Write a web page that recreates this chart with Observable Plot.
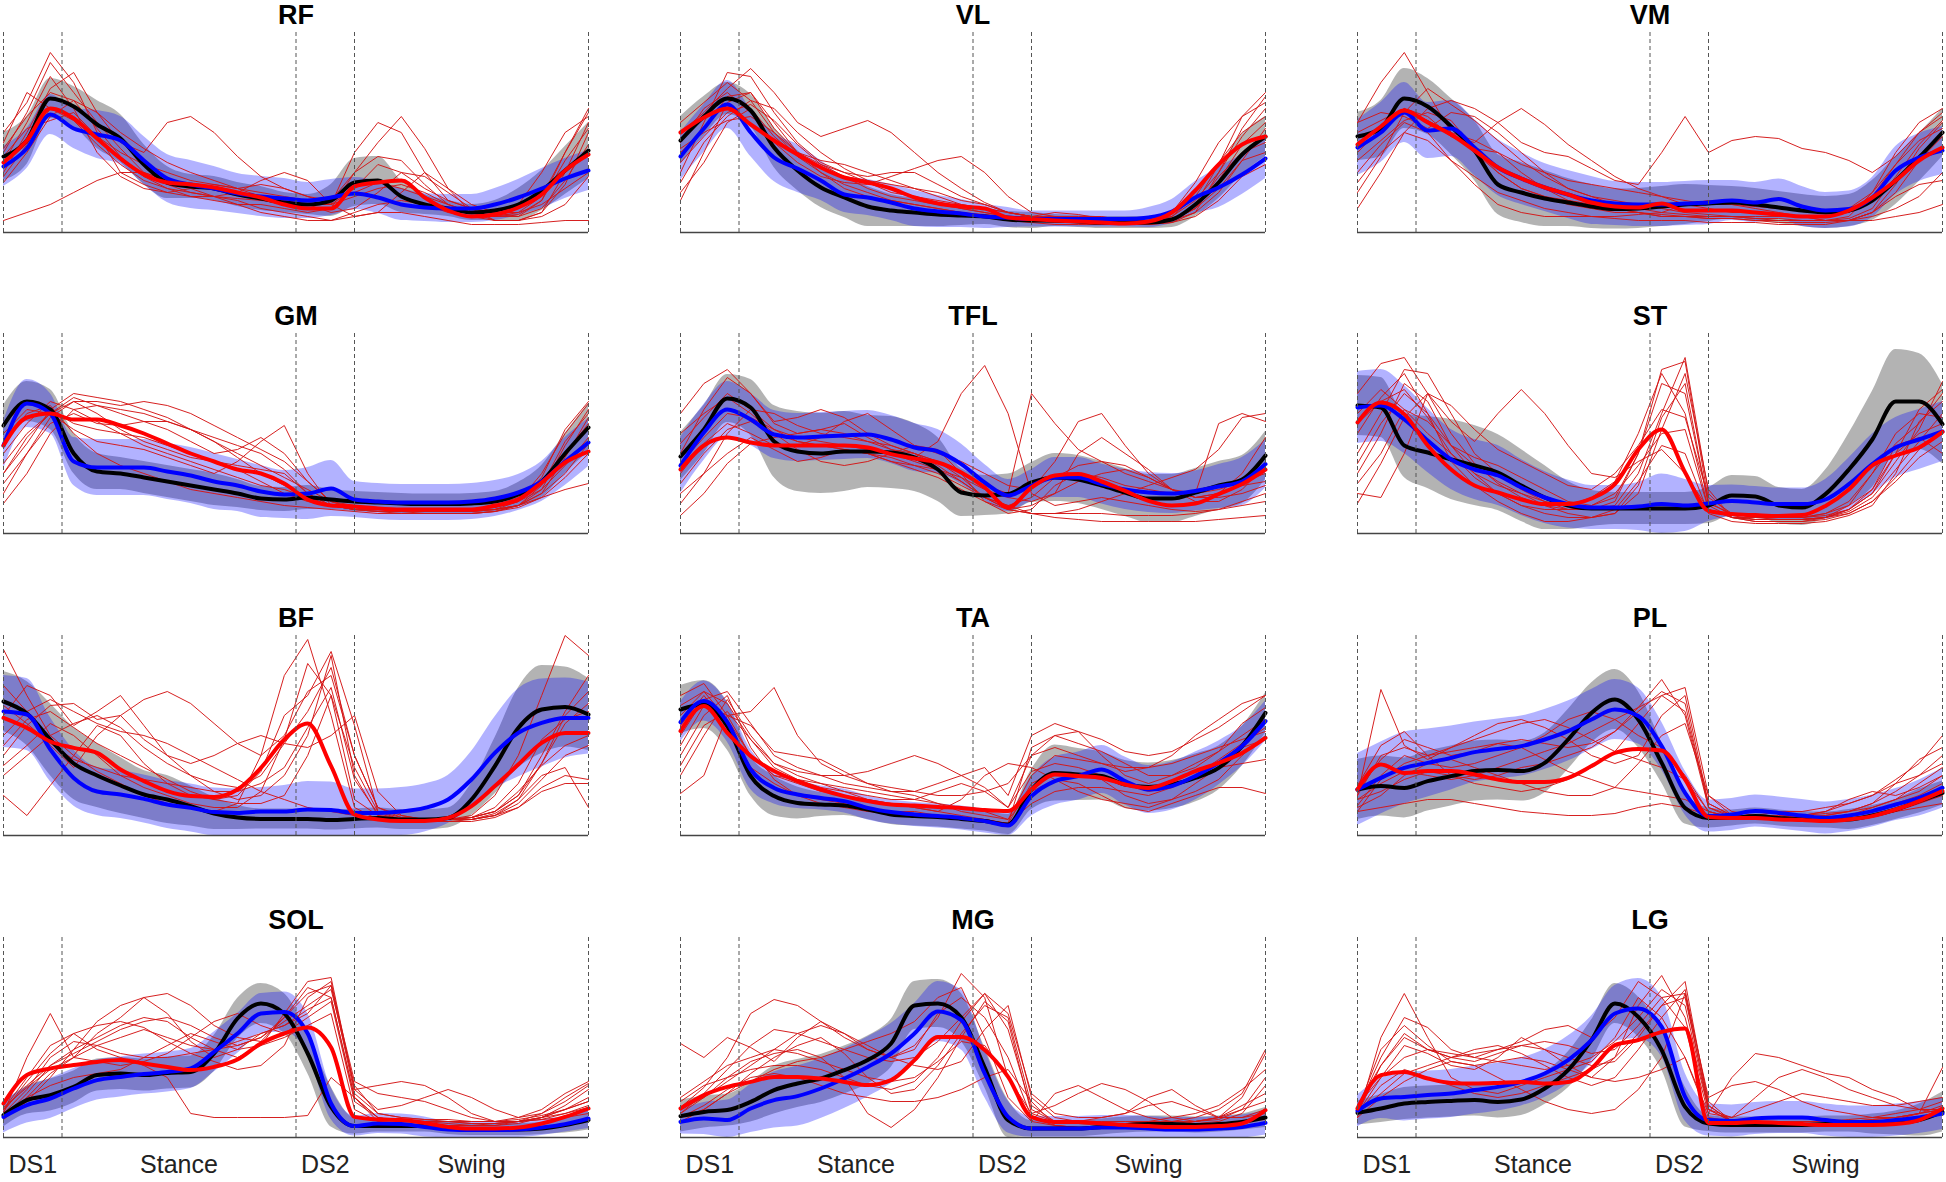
<!DOCTYPE html>
<html><head><meta charset="utf-8">
<script src="https://cdn.jsdelivr.net/npm/d3@7"></script>
<script src="https://cdn.jsdelivr.net/npm/@observablehq/plot@0.6"></script>
<style>
body{margin:0;background:#fff;}
#chart{position:relative;width:1946px;height:1182px;overflow:hidden;background:#fff;font-family:"Liberation Sans",Arial,sans-serif;}
#chart svg{position:absolute;overflow:visible;}
</style></head><body><div id="chart"></div>
<script>
// gait cycle (%) sample points
const pct = [0,4,8,12,16,20,24,28,32,36,40,44,48,52,56,60,64,68,72,76,80,84,88,92,96,100];
const muscles = ["RF","VL","VM","GM","TFL","ST","BF","TA","PL","SOL","MG","LG"];
const phaseBounds = [0,10,50,60,100];
const phaseNames = ["DS1","Stance","DS2","Swing"];
const phaseCenters = [5,30,55,80];

// ---- RF ----
const RF_black = [38,46,67,63,54,47,34,25,23,22,19,17,15,14,16,25,26,18,14,12,10,11,14,21,31,41];
const RF_blackSD = [12,12,10,10,12,12,10,8,6,6,6,6,5,5,8,12,12,8,5,4,4,5,8,10,12,14];
const RF_blue = [33,42,59,52,49,46,36,27,24,22,19.5,18,17,16,17.5,19.5,17.5,14,12.5,12,12,14,17.5,22,27,31];
const RF_blueSD = [10,10,10,10,12,12,12,12,12,11,10,10,10,9,9,8,8,8,7,7,7,8,9,10,10,10];
const RF_red = [35,46,62,57,47,37,29,25,24,22.5,20,17.5,14,12,12,23,25,26,17.5,11,8,9,12.5,19,31,39];
const RF_subjects = [
 [40,60,85,70,55,42,30,26,24,22,20,18,16,14,14,40,55,50,30,16,12,10,14,30,50,58],
 [30,50,72,80,60,45,40,55,58,50,38,28,22,18,16,20,25,22,18,14,10,8,10,14,22,30],
 [6,10,14,20,26,30,30,26,22,18,14,10,8,6,6,8,10,10,8,6,4,4,4,5,6,6],
 [45,70,62,58,48,36,28,22,18,16,14,14,12,10,12,30,45,58,42,22,14,10,8,16,40,60],
 [35,55,78,62,40,28,22,20,22,24,22,18,16,14,10,12,20,30,28,20,12,6,6,10,24,50],
 [25,40,58,66,52,38,28,24,20,18,16,12,10,8,6,10,14,16,14,10,8,6,6,8,14,28],
 [50,65,90,75,50,30,24,20,18,18,20,26,30,26,14,8,10,20,30,22,10,6,6,10,30,55],
 [42,58,70,66,60,50,42,35,30,26,22,20,18,16,16,30,38,36,24,14,10,8,9,16,36,52],
 [28,44,62,56,44,34,26,22,20,18,17,16,15,14,14,18,22,24,20,14,10,8,8,12,26,44],
 [38,52,56,60,48,40,34,30,26,24,22,24,22,18,14,22,34,30,22,16,12,10,10,18,40,62]
];
// ---- VL ----
const VL_black = [46,58,67,61,42.5,31,22.5,17.5,13,11,10,9,8.5,8,6.5,6,6,5.5,5,5,5,6.5,14,25,39,48];
const VL_blackSD = [12,10,8,8,10,10,10,10,10,8,7,6,5,4,4,4,3,3,3,3,3,4,6,8,10,10];
const VL_blue = [38,52,64,50,37.5,32,26,19,17.5,15,12,10.5,9.5,8,7.5,6.7,6.7,6.7,6.7,6.7,7.5,10.5,17.5,22.5,29,37];
const VL_blueSD = [12,12,12,12,12,12,10,9,9,9,9,8,7,6,5,4,4,4,4,4,5,6,8,10,10,10];
const VL_red = [50,57.5,62,54,46,39,32.5,27.5,25,22,17.5,14.5,13,12,7.5,6.7,6,5.5,5,4.5,5.5,10,21,34,44,48];
const VL_subjects = [
 [30,55,80,78,60,45,35,30,25,20,18,15,12,10,8,6,5,5,5,5,6,10,25,45,58,65],
 [16,40,65,70,55,40,30,24,20,16,14,12,10,8,6,5,4,4,4,4,5,8,18,35,50,58],
 [50,60,72,82,70,55,48,52,56,50,40,30,22,15,10,8,8,6,5,5,5,6,12,28,40,45],
 [45,62,70,60,45,35,28,25,24,28,32,36,38,30,18,10,8,8,8,6,6,8,16,30,48,62],
 [55,65,75,66,50,38,30,22,18,16,14,12,10,9,8,8,6,6,5,5,4,6,12,22,36,40],
 [40,52,68,70,52,40,36,34,30,26,22,18,14,12,10,8,10,9,7,5,4,5,10,30,52,68],
 [35,48,60,64,56,44,34,28,22,18,16,14,12,10,8,7,6,6,5,4,4,5,8,16,28,34],
 [25,45,58,66,62,50,40,32,26,22,18,16,14,12,10,8,7,6,6,5,5,6,14,34,58,70],
 [42,50,56,58,50,40,34,30,28,30,30,24,18,14,10,8,7,6,5,5,5,6,10,20,36,52],
 [20,35,55,62,48,38,32,28,26,24,22,20,16,14,10,8,7,6,6,6,6,7,12,26,44,55]
];
// ---- VM ----
const VM_black = [48,52,67,63,53,41,24,20,17,15,13,11.7,12,13,14,14.5,15,14,12.5,11,10,11,16,26,37.5,50];
const VM_blackSD = [12,14,15,14,14,15,15,15,14,12,11,10,10,10,10,9,8,8,8,8,8,8,10,12,12,12];
const VM_blue = [42.5,50,60,51,52,42.5,32.5,27,22.5,19,16,14.5,14,14,14.5,15,16,15,16.7,13,11,11.7,17.5,31,37.5,41];
const VM_blueSD = [14,15,15,14,14,14,14,13,12,12,12,11,11,11,11,11,10,10,10,10,9,9,10,12,12,12];
const VM_red = [44,53,61,55,49,41,32.5,27,22.5,19,15,13,12.5,14.5,11,11,11,10,9,8,8,11,17.5,26,36,42.5];
const VM_subjects = [
 [55,75,90,70,50,40,30,22,18,14,12,10,10,9,8,7,7,6,6,6,6,8,20,40,55,62],
 [12,30,50,62,66,62,55,45,40,38,32,26,24,40,58,40,46,48,47,42,40,36,30,38,50,60],
 [40,52,62,58,48,45,55,62,54,44,36,28,22,18,14,12,10,10,8,8,6,6,10,20,36,48],
 [55,60,58,52,60,58,50,40,30,22,18,14,12,10,9,8,8,7,6,6,6,6,10,24,42,55],
 [30,44,55,50,36,28,20,16,12,10,8,7,6,6,6,5,5,5,4,4,4,6,10,18,24,26],
 [45,52,60,56,48,42,40,30,22,16,14,12,10,8,8,7,7,6,5,5,5,6,8,12,18,30],
 [25,40,50,46,36,24,14,10,8,8,8,8,9,10,14,16,14,12,10,8,6,6,6,8,10,14],
 [20,38,60,72,64,56,46,36,28,22,18,16,14,12,10,9,8,8,8,8,8,10,18,34,50,58],
 [50,56,62,56,50,46,40,34,30,26,24,22,20,18,16,14,14,13,12,11,10,12,20,34,46,52],
 [36,46,56,60,56,42,30,22,18,16,14,12,10,8,8,8,8,7,7,6,6,7,12,28,44,56]
];
// ---- GM ----
const GM_black = [54,66,62,40,31,30,28,26,24,22,20,17.5,17,18,17,16,15.5,15,14.7,14.7,15,16,19.5,26,40,53];
const GM_blackSD = [10,10,10,10,9,8,8,8,8,8,7,6,6,6,5,5,5,5,5,5,5,5,6,8,10,12];
const GM_blue = [44,65,60,36,33,33,33,31,29,26,24,21,19.5,20,22.5,17,16,15.5,15.5,15.5,16,17.5,20.5,26,36,45.5];
const GM_blueSD = [12,12,10,12,14,14,14,14,14,14,13,13,12,13,14,9,9,9,9,9,9,9,9,10,12,12];
const GM_red = [44,58,60,57,57,54,50,45,40,36,32,30,25,17,14,13.5,12.5,12,12,12,12,14,17,25.5,35.5,41];
const GM_subjects = [
 [30,45,62,70,68,66,62,58,52,46,40,34,28,22,16,14,13,12,12,12,12,13,16,30,50,65],
 [20,40,58,66,66,64,66,64,60,54,48,42,36,26,16,12,11,11,10,10,10,11,14,20,38,58],
 [50,62,60,52,46,44,42,38,34,30,36,46,54,30,14,12,12,12,12,12,12,12,14,18,22,25],
 [40,55,66,62,56,50,44,40,36,32,28,24,22,18,14,13,12,12,12,12,12,14,18,26,40,55],
 [45,60,64,50,40,34,30,26,22,20,18,16,14,13,12,11,10,10,10,10,10,11,13,18,28,40],
 [35,50,60,68,64,60,56,52,46,40,42,48,40,26,16,13,12,12,11,11,11,12,14,20,30,45],
 [25,40,55,60,55,54,56,56,52,46,38,30,24,18,14,12,12,12,11,11,11,12,14,22,44,62],
 [15,30,50,62,64,62,60,56,52,48,44,40,32,20,14,12,11,10,10,10,10,11,14,24,46,60],
 [55,66,62,55,52,50,48,44,40,36,32,26,20,16,14,12,12,12,11,11,12,13,16,22,34,48],
 [30,48,60,66,60,52,46,42,38,36,34,32,30,20,14,12,11,11,11,11,11,12,16,28,52,66]
];
// ---- TFL ----
const TFL_black = [38.5,52,67.5,63,46,41,40,41,41,40.5,38,32,20.5,19,19.7,25.5,28,27,24,20.5,17.5,17.5,20.5,24,27,39];
const TFL_blackSD = [12,12,12,14,18,20,20,20,18,18,17,16,12,10,10,10,12,12,12,12,12,12,12,12,12,12];
const TFL_blue = [34,50.5,62,57,49.5,48,48.5,49,49.5,47,43,41,34.7,25.5,19,24,28,28,24.7,22,20.5,20,21.3,23.5,26,34.7];
const TFL_blueSD = [14,14,14,13,12,12,12,12,12,12,12,11,10,9,8,8,10,10,10,10,10,10,10,11,12,12];
const TFL_red = [32,44,48,45.5,44,44,44,44,43,39.7,37.5,35.5,30.5,23,13,23,29,29.7,26,21.3,16.3,14,15,19.7,24.7,32];
const TFL_subjects = [
 [60,75,82,70,55,50,52,55,48,42,38,46,70,84,60,20,14,16,18,16,14,12,11,12,16,20],
 [9,20,35,45,48,50,52,50,46,42,40,36,28,18,14,10,8,7,6,6,6,6,6,7,8,9],
 [40,62,78,70,56,58,62,58,50,44,40,36,30,24,20,70,55,42,36,30,26,22,20,22,26,30],
 [30,45,55,50,44,44,48,56,60,52,44,40,36,30,24,22,36,56,60,44,30,22,18,20,24,26],
 [50,60,68,60,50,42,36,34,36,40,44,42,30,16,10,12,24,30,28,24,22,20,20,55,60,56],
 [20,30,40,48,42,36,38,42,40,36,34,32,28,22,18,16,20,26,30,32,28,22,16,16,22,34],
 [35,48,60,58,52,48,46,44,42,40,36,32,26,18,12,14,20,40,48,40,32,22,18,20,30,48],
 [15,30,50,62,60,54,50,48,46,44,40,34,26,18,12,10,10,12,16,20,24,28,32,42,58,60],
 [45,58,70,62,52,46,44,42,40,36,32,28,22,16,12,10,10,10,10,9,9,9,10,12,14,16],
 [25,40,52,56,50,46,44,42,40,38,34,30,24,18,14,18,28,34,36,34,28,22,18,18,20,24]
];
// ---- ST ----
const ST_black = [64,63,44,40.5,37,34,30.5,24,18,14,12.5,12.5,12.5,12.5,12.5,14,19,18.5,14,13,19.7,32,47,66,66,54.7];
const ST_blackSD = [15,15,16,18,20,20,19,18,16,12,9,8,8,8,8,9,10,10,9,9,12,18,24,26,24,20];
const ST_blue = [63,64,57,46.5,37,32,29,23,18,14.7,13,13,13.5,14.7,14,15,16.3,15.5,14.7,14.7,17,24.7,34.7,43,47,51];
const ST_blueSD = [18,18,17,16,15,15,15,14,13,12,11,11,12,15,13,9,8,8,8,8,10,13,15,15,15,15];
const ST_red = [55.5,65.5,59.7,44,32,24,20.5,17,14.7,14.7,17.5,24.7,42,52,30.5,11.3,9.7,9.2,8.8,9.2,13.8,22,34,39,43,50.8];
const ST_subjects = [
 [70,85,88,70,50,35,25,18,14,12,12,14,30,60,88,20,8,6,6,6,8,14,30,50,60,58],
 [40,60,82,80,60,40,30,22,16,12,12,16,40,75,70,15,10,8,8,8,10,16,30,45,55,70],
 [20,18,40,70,56,46,60,72,60,44,30,28,36,42,30,12,8,8,8,8,10,14,22,40,50,55],
 [60,72,62,50,40,30,24,20,16,14,18,26,50,80,60,12,9,9,8,8,9,12,20,36,52,76],
 [30,50,75,66,44,30,20,14,10,8,8,10,20,52,80,22,8,6,6,6,7,10,16,28,42,50],
 [50,68,80,60,36,24,16,10,6,6,8,12,26,44,40,10,6,5,5,5,6,9,14,30,56,66],
 [15,35,58,70,64,52,42,36,30,24,22,30,44,62,58,18,10,8,7,7,8,12,22,44,48,40],
 [35,55,70,60,44,34,26,20,14,10,8,10,24,58,75,14,8,7,7,7,8,12,20,40,62,72],
 [55,66,72,58,40,28,20,14,12,12,14,20,34,50,52,12,8,7,7,7,8,10,16,26,38,46],
 [25,40,62,56,44,38,34,28,22,16,14,18,40,82,86,16,9,7,7,7,8,11,18,32,46,60]
];
// ---- BF ----
const BF_black = [67,61,48,36,30,25,20.5,18,14.7,11,9,8.3,8.3,8.3,7.7,8.3,8.8,8,8,8.8,18,34.7,53.8,63,64.3,60.5];
const BF_blackSD = [15,16,18,18,16,14,12,12,10,8,6,5,5,5,5,5,5,5,5,5,8,14,20,22,20,18];
const BF_blue = [62,60.5,43,28.8,22,20.5,18.3,15.5,13.8,11.7,11.3,12,12,13,12.7,11.3,11.3,12,13.8,18,28,41.3,51.3,56.3,58.8,58.8];
const BF_blueSD = [18,18,16,14,12,12,12,12,12,12,12,12,13,14,14,12,12,12,12,12,14,18,22,22,20,18];
const BF_red = [58.8,53.8,47,43.8,41.3,33,27.2,22.2,19.7,19.3,23,33.8,48,56,34.7,10.5,8,7.2,7.2,8.8,14.7,24.7,35.5,46.3,51.3,51.3];
const BF_subjects = [
 [93,70,50,40,32,26,20,16,14,12,16,40,80,98,60,14,8,7,7,8,10,20,40,70,100,90],
 [60,75,70,55,62,70,55,40,30,22,18,20,30,50,90,30,10,8,8,8,9,12,22,35,45,50],
 [40,55,65,66,58,60,68,72,66,56,46,40,50,72,80,40,14,10,8,8,9,14,26,48,58,62],
 [75,62,45,34,50,60,48,40,36,40,46,50,46,44,50,60,22,10,8,8,8,10,16,28,40,45],
 [35,45,56,50,40,30,24,20,16,14,14,22,48,86,70,18,10,8,8,8,8,10,14,24,30,28],
 [50,62,68,62,56,52,50,46,40,34,28,22,18,14,12,10,9,8,8,8,9,12,20,36,60,72],
 [20,10,25,40,55,50,36,26,20,18,20,32,60,70,92,55,12,8,7,7,8,11,18,30,34,14],
 [45,58,62,54,46,40,34,28,22,18,16,16,20,40,70,34,12,9,8,8,8,10,18,36,56,66],
 [30,40,50,56,60,54,44,36,30,26,24,30,46,62,84,40,14,9,8,8,9,12,20,40,62,80],
 [65,56,46,38,34,30,28,26,24,22,22,26,34,54,74,28,11,8,7,7,7,9,14,22,26,26]
];
// ---- TA ----
const TA_black = [63,65.5,54.7,29.7,19.7,16.3,15.5,15,13,10.5,9.7,9.3,8.3,7.2,5.5,23,31.3,30.5,29.7,25.5,24.3,25.5,28.8,33.8,44.7,61.3];
const TA_blackSD = [12,12,12,10,10,8,6,5,5,5,5,5,5,5,5,10,14,13,12,12,12,12,12,11,10,10];
const TA_blue = [56.7,67.2,56.7,33,23.8,20.5,18.8,17.2,13.8,11.7,10.5,9.7,8.8,7.2,5,19.7,27.2,29.7,33,27.2,23,24.7,29.7,36.3,44.7,57.2];
const TA_blueSD = [10,10,10,10,8,7,6,6,6,6,6,6,6,6,6,10,12,12,12,12,12,12,12,11,10,10];
const TA_red = [52.2,64.7,51.3,39.7,32.2,27.2,23,19.7,17.2,15.5,15,14.3,13.8,12.7,12.2,23,30.5,29.7,28.8,25.5,23.8,27.2,32.2,36.3,41.3,48.8];
const TA_subjects = [
 [70,76,60,40,30,28,26,24,22,20,18,16,14,12,8,30,40,38,36,32,34,40,50,58,66,70],
 [21,30,60,55,42,40,38,32,26,22,20,16,12,10,8,22,28,26,20,14,12,16,20,24,24,21],
 [45,65,60,62,74,50,36,30,26,24,22,26,30,34,20,50,56,52,40,30,26,30,36,42,50,58],
 [55,70,55,34,26,20,18,16,14,12,12,10,9,8,6,26,32,30,28,20,16,18,22,28,40,50],
 [30,50,68,50,36,32,30,30,32,36,40,36,30,24,14,40,44,40,36,34,34,36,40,44,48,52],
 [60,72,66,48,36,30,26,22,18,16,14,12,18,30,36,34,28,22,18,16,14,18,26,34,36,38],
 [40,60,70,44,28,20,16,14,12,11,10,9,8,7,6,16,22,24,24,22,20,24,30,38,46,54],
 [50,68,72,56,40,34,30,26,24,22,22,20,20,22,26,40,50,52,48,42,40,42,48,54,62,70],
 [35,55,62,48,34,28,24,22,20,18,18,22,26,22,14,32,36,34,30,26,22,24,30,36,44,48],
 [65,72,58,40,30,26,22,20,18,16,14,12,10,8,6,44,50,46,42,36,30,30,34,42,56,64]
];
// ---- PL ----
const PL_black = [23,24.7,23.8,27.2,29.7,32.2,32.7,32.2,36.3,48,61.3,68,58,36.3,13.8,8.8,8.8,9.7,8.8,8,7.7,8,10,13,17.2,21.3];
const PL_blackSD = [15,15,15,15,15,15,15,15,15,15,15,15,14,10,8,5,4,4,4,4,4,5,5,5,6,6];
const PL_blue = [23,28.8,33.8,36.3,38.8,41.7,43.3,44.7,48,52.2,58,63,59.7,44.7,21.3,9.7,10.5,12.2,11.3,10,8.8,10,12.2,15.5,18.8,23.8];
const PL_blueSD = [18,18,18,17,16,15,15,15,15,15,15,15,14,12,11,8,8,8,8,8,8,8,8,8,9,10];
const PL_red = [23,35.5,31.3,32.2,32.2,30.5,28,26.7,26.7,28.8,34.7,41.3,43.3,42.5,28,9.3,8.8,8.8,8,7.7,7.2,8,9.7,13,17.2,22.2];
const PL_subjects = [
 [20,73,45,38,44,50,56,58,54,48,40,36,40,60,70,16,10,10,12,12,14,16,20,28,36,50],
 [15,30,40,36,34,36,40,44,50,58,62,58,50,44,30,12,9,9,9,9,10,12,16,26,38,44],
 [12,14,16,18,18,16,14,12,11,10,10,11,14,16,14,10,8,8,8,7,7,8,10,12,16,20],
 [25,45,52,40,30,28,30,34,36,40,44,52,64,78,60,14,9,9,9,10,12,18,22,20,24,30],
 [18,22,28,32,30,26,24,22,24,28,34,42,56,70,74,20,10,9,9,9,9,10,12,16,20,26],
 [22,38,48,44,40,42,46,44,38,32,28,24,22,20,18,12,9,8,8,8,9,10,14,18,22,30],
 [14,20,30,36,38,34,30,26,22,20,20,24,36,50,56,20,12,10,9,9,9,9,10,12,14,16],
 [20,40,44,40,42,44,46,48,46,44,46,52,62,72,66,14,10,10,10,10,11,12,16,22,30,40],
 [12,28,36,40,44,48,52,56,58,54,48,42,38,34,28,12,9,9,9,9,10,12,14,18,26,34],
 [18,26,32,30,28,30,34,38,42,46,52,58,64,70,62,16,10,9,9,10,12,16,20,26,30,36]
];
// ---- SOL ----
const SOL_black = [11.2,18.7,21.2,25.3,31.2,32,31.2,32.3,32.8,42,59.5,67,62,42,15.3,5.7,5.7,5.7,5.7,4.5,4,4,4,4.5,6.2,8.7];
const SOL_blackSD = [6,7,8,8,8,8,8,8,8,9,10,10,10,10,10,4,3,3,3,3,3,3,3,3,4,5];
const SOL_blue = [10.3,16.2,19.5,24.5,28.7,30.3,31.7,32.8,34.5,42.8,52,62,62.8,52,17,5.7,7,6.7,5.3,4,3.7,3.7,4,5,6.7,9.5];
const SOL_blueSD = [8,9,10,10,10,10,10,10,10,10,10,10,10,10,8,5,5,5,5,4,4,4,4,4,4,5];
const SOL_red = [17,31.2,34.5,36.2,37.8,38.7,37,35.3,33.7,35.3,39,47,52,55,45,10.3,9,8.7,7.3,5.3,4.5,4.5,5,7,10.3,14.5];
const SOL_subjects = [
 [12,40,62,40,52,60,70,72,66,56,50,48,60,75,70,20,10,9,8,7,6,6,7,10,16,24],
 [10,22,36,44,50,56,60,58,50,44,40,46,62,78,80,24,26,28,26,20,12,8,8,10,14,18],
 [14,30,46,52,44,40,36,30,12,10,10,10,10,11,30,20,8,6,6,6,6,6,8,12,18,26],
 [9,18,30,44,58,66,70,62,48,40,44,52,56,62,76,28,22,20,18,14,10,8,8,10,14,20],
 [15,25,34,40,38,36,38,42,50,58,62,56,52,60,68,18,10,8,8,8,7,7,8,10,12,15],
 [11,20,26,30,32,34,40,46,52,48,44,46,50,56,62,14,8,7,6,6,6,7,8,9,10,12],
 [13,28,42,52,56,58,55,48,42,38,34,36,46,70,78,24,14,16,20,24,20,14,10,12,20,27],
 [10,20,32,40,46,50,54,50,46,44,46,50,58,66,74,26,12,10,9,8,8,8,9,11,14,18],
 [12,24,40,48,46,42,40,40,42,44,48,52,56,64,70,20,10,8,8,8,7,7,8,9,12,16],
 [14,26,36,42,48,54,58,60,56,50,46,50,60,72,76,22,12,10,9,9,8,8,10,14,22,28]
];
// ---- MG ----
const MG_black = [10.7,12.8,13.7,17.8,23.7,27,29.5,33.7,38.7,47,66,67,60,35,8.7,4.5,4.5,4.5,5.3,6.2,6.7,6.7,6.2,6.7,7.8,10];
const MG_blackSD = [8,8,8,10,12,12,12,12,12,12,12,12,12,10,10,4,4,4,4,4,4,4,4,4,4,5];
const MG_blue = [7.8,9.5,8.7,14.5,18.7,20.7,24.5,29.5,35.3,42,52,63,58.7,32,10.3,4.5,4.5,4.5,5,5,4.5,4,4,4.5,5.3,7.3];
const MG_blueSD = [6,8,10,12,14,15,15,15,15,15,15,15,15,12,8,6,6,6,6,6,6,6,6,6,6,6];
const MG_red = [14.5,21.2,25.3,27.8,30.3,30.3,29.5,27.8,26.2,28.7,38.7,50.3,50.3,43.7,30.3,10.3,7.8,7.8,7,6.2,5.7,5.3,5.3,5.7,7,13.7];
const MG_subjects = [
 [47,40,50,45,38,50,58,52,44,40,44,62,70,60,40,10,6,5,5,5,6,6,8,10,20,42],
 [15,25,40,62,69,66,58,50,44,40,46,60,82,70,30,8,22,26,20,14,10,8,8,10,14,18],
 [10,14,22,32,40,46,50,42,30,22,24,36,52,66,60,16,8,7,6,6,6,6,7,8,12,26],
 [12,20,30,38,42,44,40,30,12,5,14,30,50,68,58,12,8,8,10,12,20,24,16,10,10,14],
 [8,14,22,28,34,38,40,44,48,52,58,70,75,50,20,8,6,5,5,5,5,5,6,7,8,9],
 [20,28,36,40,44,42,38,34,30,28,30,38,48,46,30,12,16,22,27,24,18,10,8,9,14,30],
 [10,16,24,30,32,30,26,22,20,18,18,20,24,30,34,18,6,5,5,5,6,7,8,10,16,22],
 [12,22,34,46,54,52,48,44,40,38,40,48,60,72,54,14,8,7,7,7,8,10,12,16,24,34],
 [18,26,30,34,36,36,34,30,26,24,28,40,58,72,62,22,12,10,10,12,16,18,14,10,10,12],
 [14,20,28,36,44,52,56,52,46,40,36,34,38,54,66,20,10,8,8,8,8,8,10,14,22,44]
];
// ---- LG ----
const LG_black = [12.3,14.5,17,17.8,18.3,18.7,17.8,19,24.5,33.7,48.7,67,60.3,43.7,15.3,7,6.2,6.2,6.2,6.2,6.7,6.7,6.7,7.3,8.7,12.8];
const LG_blackSD = [6,7,8,8,8,8,8,8,8,9,10,10,10,10,10,4,4,4,4,4,4,4,5,6,8,10];
const LG_blue = [13.3,19.5,20.3,21.2,22,23.7,25.3,27.8,32,38.7,48.7,62,64.5,55.3,20.3,8.7,8.3,9.5,10,10,8.7,7.8,7.8,8.7,10,12];
const LG_blueSD = [8,10,12,12,12,12,12,12,12,12,12,14,15,15,12,8,8,8,8,8,8,8,8,8,8,8];
const LG_red = [14.5,31.2,32.8,29.5,27.3,27,27.3,27.8,27,27.8,34.5,46.2,48.7,52.8,54.5,7.3,7.3,7.8,7.3,6.7,6.2,6.2,6.2,6.7,8.7,14.5];
const LG_subjects = [
 [10,50,72,50,30,24,22,26,30,34,38,50,70,60,40,10,8,8,7,7,7,8,8,9,12,35],
 [14,40,60,55,44,40,44,48,54,56,50,60,78,70,55,12,30,42,40,36,32,30,24,20,14,12],
 [12,30,46,42,36,34,40,50,44,36,30,40,66,81,60,14,8,7,7,7,7,7,8,8,10,14],
 [16,36,50,44,40,44,46,42,36,30,26,30,44,60,74,18,8,8,8,8,8,9,10,12,14,18],
 [10,20,28,34,38,36,30,24,18,14,12,14,24,40,72,20,26,28,24,18,14,12,10,10,12,14],
 [12,26,34,30,26,22,20,22,26,30,34,40,52,66,70,16,8,7,7,6,6,6,7,8,10,12],
 [14,44,56,46,38,36,38,40,38,34,30,28,30,34,40,12,10,14,18,22,20,18,16,16,18,20],
 [12,36,52,44,40,38,42,46,48,46,42,44,56,70,72,14,10,20,30,34,30,24,20,16,14,14],
 [16,30,40,44,42,40,38,36,34,36,40,48,60,74,66,14,8,8,8,8,8,8,9,10,12,16],
 [12,22,32,36,40,42,44,46,44,40,36,38,50,66,78,16,8,8,7,7,7,8,9,10,12,14]
];

// lookup table built from the named arrays
const table = {
  RF:[RF_black,RF_blackSD,RF_blue,RF_blueSD,RF_red,RF_subjects],
  VL:[VL_black,VL_blackSD,VL_blue,VL_blueSD,VL_red,VL_subjects],
  VM:[VM_black,VM_blackSD,VM_blue,VM_blueSD,VM_red,VM_subjects],
  GM:[GM_black,GM_blackSD,GM_blue,GM_blueSD,GM_red,GM_subjects],
  TFL:[TFL_black,TFL_blackSD,TFL_blue,TFL_blueSD,TFL_red,TFL_subjects],
  ST:[ST_black,ST_blackSD,ST_blue,ST_blueSD,ST_red,ST_subjects],
  BF:[BF_black,BF_blackSD,BF_blue,BF_blueSD,BF_red,BF_subjects],
  TA:[TA_black,TA_blackSD,TA_blue,TA_blueSD,TA_red,TA_subjects],
  PL:[PL_black,PL_blackSD,PL_blue,PL_blueSD,PL_red,PL_subjects],
  SOL:[SOL_black,SOL_blackSD,SOL_blue,SOL_blueSD,SOL_red,SOL_subjects],
  MG:[MG_black,MG_blackSD,MG_blue,MG_blueSD,MG_red,MG_subjects],
  LG:[LG_black,LG_blackSD,LG_blue,LG_blueSD,LG_red,LG_subjects]
};

const colLeft = [3, 680, 1356.5];
const rowTop = [0, 301, 603, 905];
const ML = 20, MR = 20, MT = 32, MB = 45, PW = 585, PH = 200;
const chart = document.getElementById("chart");
const curve = "monotone-x";

muscles.forEach((name, idx) => {
  const col = idx % 3, row = Math.floor(idx / 3);
  const [bk, bkSD, bl, blSD, rd, subj] = table[name];
  const band = (m, s) => pct.map((x, i) => ({x, lo: Math.max(0, m[i] - s[i]), hi: m[i] + s[i]}));
  const series = (m) => pct.map((x, i) => ({x, v: m[i]}));
  const thin = subj.flatMap((arr, k) => arr.map((v, i) => ({x: pct[i], v, k})));
  const marks = [
    Plot.areaY(band(bk, bkSD), {x: "x", y1: "lo", y2: "hi", fill: "#808080", fillOpacity: 0.6, curve}),
    Plot.areaY(band(bl, blSD), {x: "x", y1: "lo", y2: "hi", fill: "#0000ff", fillOpacity: 0.3, curve}),
    Plot.line(thin, {x: "x", y: "v", z: "k", stroke: "#d41414", strokeWidth: 1, strokeOpacity: 0.95, curve: "linear"}),
    Plot.line(series(bk), {x: "x", y: "v", stroke: "#000", strokeWidth: 4, curve}),
    Plot.line(series(bl), {x: "x", y: "v", stroke: "#0000ff", strokeWidth: 4, curve}),
    Plot.line(series(rd), {x: "x", y: "v", stroke: "#ff0000", strokeWidth: 4, curve}),
    Plot.ruleX(phaseBounds, {stroke: "#555", strokeWidth: 1, strokeDasharray: "4,3"}),
    Plot.ruleY([0], {stroke: "#444", strokeWidth: 1.5}),
    Plot.text([name], {frameAnchor: "top", text: d => d, dy: -9, lineAnchor: "bottom", fontSize: 27, fontWeight: "bold", fill: "#000"})
  ];
  if (row === 3) {
    const labs = phaseNames.map((t, i) => ({t, x: phaseCenters[i]}));
    marks.push(Plot.text(labs, {x: "x", text: "t", frameAnchor: "bottom", lineAnchor: "top", dy: 18, fontSize: 25, fill: "#222"}));
  }
  const svg = Plot.plot({
    width: PW + ML + MR, height: PH + MT + MB,
    marginLeft: ML, marginRight: MR, marginTop: MT, marginBottom: MB,
    x: {domain: [0, 100], axis: null},
    y: {domain: [0, 100], axis: null},
    style: {fontFamily: "'Liberation Sans', Arial, sans-serif", background: "transparent", overflow: "visible"},
    marks
  });
  svg.style.left = (colLeft[col] - ML) + "px";
  svg.style.top = rowTop[row] + "px";
  chart.appendChild(svg);
});
</script>
</body></html>
